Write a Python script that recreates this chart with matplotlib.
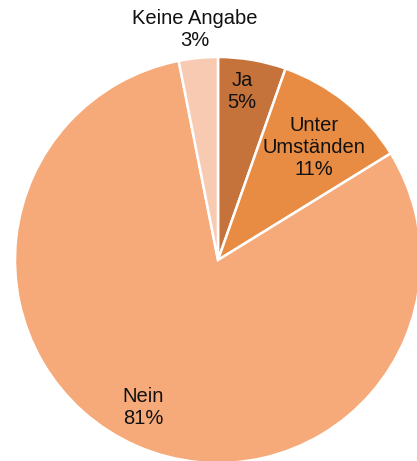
import numpy as np
import matplotlib
matplotlib.use("Agg")
import matplotlib.pyplot as plt

plt.rcParams['font.family'] = ['Liberation Sans', 'DejaVu Sans']

# survey answers, share in percent
categories = ["Ja", "Unter\nUmständen", "Nein", "Keine Angabe"]
shares = [5.4, 10.8, 80.7, 3.1]
colors = ["#C5733A", "#E88C44", "#F6AA79", "#F9CAB2"]

# label placement per slice: radius fraction and angle nudge (degrees)
label_radius = [0.836, 0.73, 0.817, 1.143]
label_nudge = [1.6, -1.5, -3.3, 0.1]

W, H = 417, 461
fig = plt.figure(figsize=(W / 100, H / 100), dpi=100)
ax = fig.add_axes([0, 0, 1, 1])

# pie centre and radius in pixels
cx, cy, rad = 218.0, 260.0, 203.0

wedges, _ = ax.pie(shares, colors=colors, startangle=90, counterclock=False,
                   radius=1.0, center=(0, 0), frame=True,
                   wedgeprops=dict(edgecolor='white', linewidth=1.8))
ax.axis('off')
ax.set_aspect('auto')
ax.set_xlim(-cx / rad, (W - cx) / rad)
ax.set_ylim(-(H - cy) / rad, cy / rad)

total = sum(shares)
for w, name, val, r, nudge in zip(wedges, categories, shares, label_radius, label_nudge):
    ang = np.deg2rad((w.theta1 + w.theta2) / 2 + nudge)
    ax.text(r * np.cos(ang), r * np.sin(ang),
            f"{name}\n{val / total * 100:.0f}%",
            ha='center', va='center', fontsize=14.5, color='#111111',
            linespacing=1.2)

fig.savefig("out.png", dpi=100)
